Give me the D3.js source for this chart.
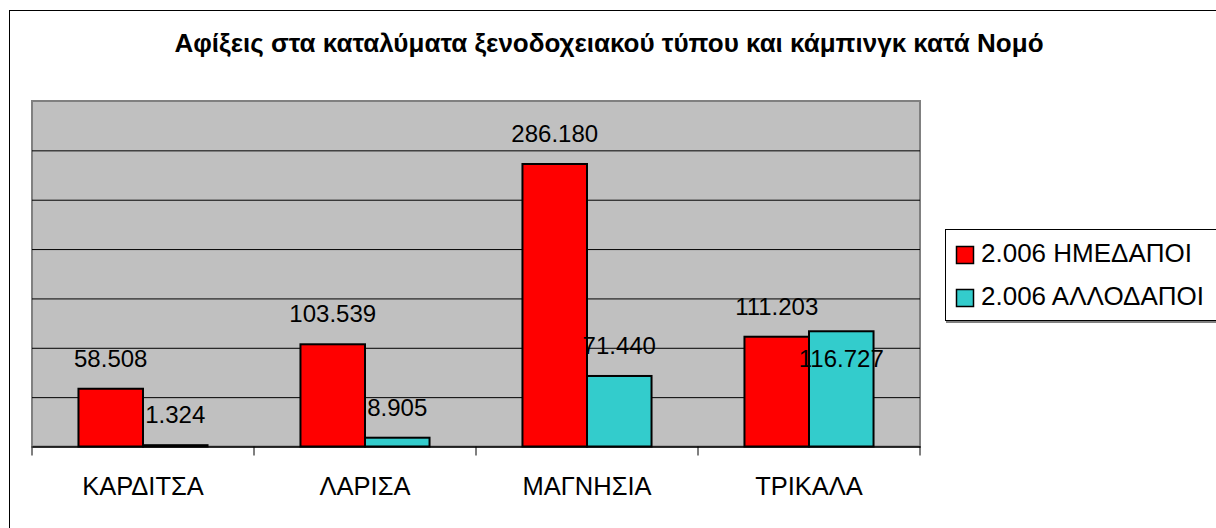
<!DOCTYPE html>
<html lang="el">
<head>
<meta charset="utf-8">
<title>Αφίξεις κατά Νομό</title>
<script src="https://cdn.jsdelivr.net/npm/d3@7"></script>
<style>
  body { margin: 0; background: #fff; }
  text { font-family: "Liberation Sans", Arial, sans-serif; fill: #000; }
</style>
</head>
<body>
<script>
// data
var categories = ["ΚΑΡΔΙΤΣΑ", "ΛΑΡΙΣΑ", "ΜΑΓΝΗΣΙΑ", "ΤΡΙΚΑΛΑ"];
var seriesNames = ["2.006 ΗΜΕΔΑΠΟΙ", "2.006 ΑΛΛΟΔΑΠΟΙ"];
var domestic = [58508, 103539, 286180, 111203];
var foreign = [1324, 8905, 71440, 116727];
var yTicks = [0, 50000, 100000, 150000, 200000, 250000, 300000, 350000];

var colors = ["#ff0000", "#33cccc"];
var title = "Αφίξεις στα καταλύματα ξενοδοχειακού τύπου και κάμπινγκ κατά Νομό";

var W = 1216, H = 528;
var plot = {left: 32, right: 920, top: 101, bottom: 446.5};

var svg = d3.select("body").append("svg")
    .attr("width", W)
    .attr("height", H);

// outer chart border (runs off the right and bottom edge)
svg.append("rect")
    .attr("x", 9.5).attr("y", 10.5)
    .attr("width", W).attr("height", H)
    .attr("fill", "#fff")
    .attr("stroke", "#000")
    .attr("stroke-width", 1);

svg.append("text")
    .attr("x", 609).attr("y", 52)
    .attr("text-anchor", "middle")
    .attr("font-size", 26)
    .attr("font-weight", "bold")
    .text(title);

var x0 = d3.scaleBand()
    .domain(categories)
    .range([plot.left, plot.right]);

var bw = x0.bandwidth() / 3.44;
var x1 = d3.scaleBand()
    .domain(seriesNames)
    .range([(x0.bandwidth() - 2 * bw) / 2, (x0.bandwidth() + 2 * bw) / 2]);

var y = d3.scaleLinear()
    .domain([0, d3.max(yTicks)])
    .range([plot.bottom, plot.top]);

// plot area
svg.append("rect")
    .attr("x", plot.left).attr("y", plot.top)
    .attr("width", plot.right - plot.left)
    .attr("height", plot.bottom - plot.top)
    .attr("fill", "#c0c0c0")
    .attr("stroke", "#808080")
    .attr("stroke-width", 2);

// gridlines
svg.append("g")
    .attr("transform", "translate(" + plot.left + ",0)")
    .call(d3.axisLeft(y).tickValues(yTicks.slice(1, -1))
        .tickSize(-(plot.right - plot.left)).tickFormat(""))
    .call(function(g) {
        g.select(".domain").remove();
        g.selectAll(".tick line").attr("stroke", "#000").attr("stroke-width", 1);
    });

var table = categories.map(function(c, i) {
    return {cat: c, values: [domestic[i], foreign[i]]};
});

// one label in the source sits inside its bar instead of above it
var labelNudge = {"ΤΡΙΚΑΛΑ|1": 58};

var groups = svg.append("g").selectAll("g")
    .data(table)
    .enter().append("g")
    .attr("transform", function(d) { return "translate(" + x0(d.cat) + ",0)"; });

groups.selectAll("rect")
    .data(function(d) { return d.values.map(function(v, j) { return {cat: d.cat, s: j, v: v}; }); })
    .enter().append("rect")
    .attr("x", function(d) { return x1(seriesNames[d.s]); })
    .attr("y", function(d) { return y(d.v); })
    .attr("width", x1.bandwidth())
    .attr("height", function(d) { return plot.bottom - y(d.v); })
    .attr("fill", function(d) { return colors[d.s]; })
    .attr("stroke", "#000")
    .attr("stroke-width", 2);

groups.selectAll("text")
    .data(function(d) { return d.values.map(function(v, j) { return {cat: d.cat, s: j, v: v}; }); })
    .enter().append("text")
    .attr("x", function(d) { return x1(seriesNames[d.s]) + x1.bandwidth() / 2; })
    .attr("y", function(d) { return y(d.v) - 22 + (labelNudge[d.cat + "|" + d.s] || 0); })
    .attr("text-anchor", "middle")
    .attr("font-size", 24)
    .text(function(d) { return d3.format(",")(d.v).replace(/,/g, "."); });

// category axis
svg.append("g")
    .attr("transform", "translate(0," + plot.bottom + ")")
    .call(d3.axisBottom(x0).tickSize(0).tickPadding(30))
    .call(function(g) {
        g.select(".domain").attr("stroke", "#000").attr("stroke-width", 1.5);
        g.selectAll(".tick text").attr("font-size", 25.5).attr("fill", "#000")
            .attr("font-family", "Liberation Sans, Arial, sans-serif");
    });

svg.append("g").selectAll("line")
    .data(categories.concat(["end"]))
    .enter().append("line")
    .attr("x1", function(d, i) { return plot.left + i * x0.bandwidth(); })
    .attr("x2", function(d, i) { return plot.left + i * x0.bandwidth(); })
    .attr("y1", plot.bottom)
    .attr("y2", plot.bottom + 9)
    .attr("stroke", "#000");

// legend
var legend = svg.append("g");
legend.append("rect")
    .attr("x", 945.5).attr("y", 229.5)
    .attr("width", 300).attr("height", 91)
    .attr("fill", "#fff")
    .attr("stroke", "#000");
legend.append("line")
    .attr("x1", 946).attr("x2", W)
    .attr("y1", 322).attr("y2", 322)
    .attr("stroke", "#808080").attr("stroke-width", 2);

var li = legend.selectAll("g.item")
    .data(seriesNames)
    .enter().append("g")
    .attr("class", "item")
    .attr("transform", function(d, i) { return "translate(956," + (246 + i * 43) + ")"; });
li.append("rect")
    .attr("x", 0.5).attr("y", 0.5)
    .attr("width", 17).attr("height", 17)
    .attr("fill", function(d, i) { return colors[i]; })
    .attr("stroke", "#000")
    .attr("stroke-width", 1.5);
li.append("text")
    .attr("x", 25).attr("y", 16)
    .attr("font-size", 26)
    .text(function(d) { return d; });
</script>
</body>
</html>
